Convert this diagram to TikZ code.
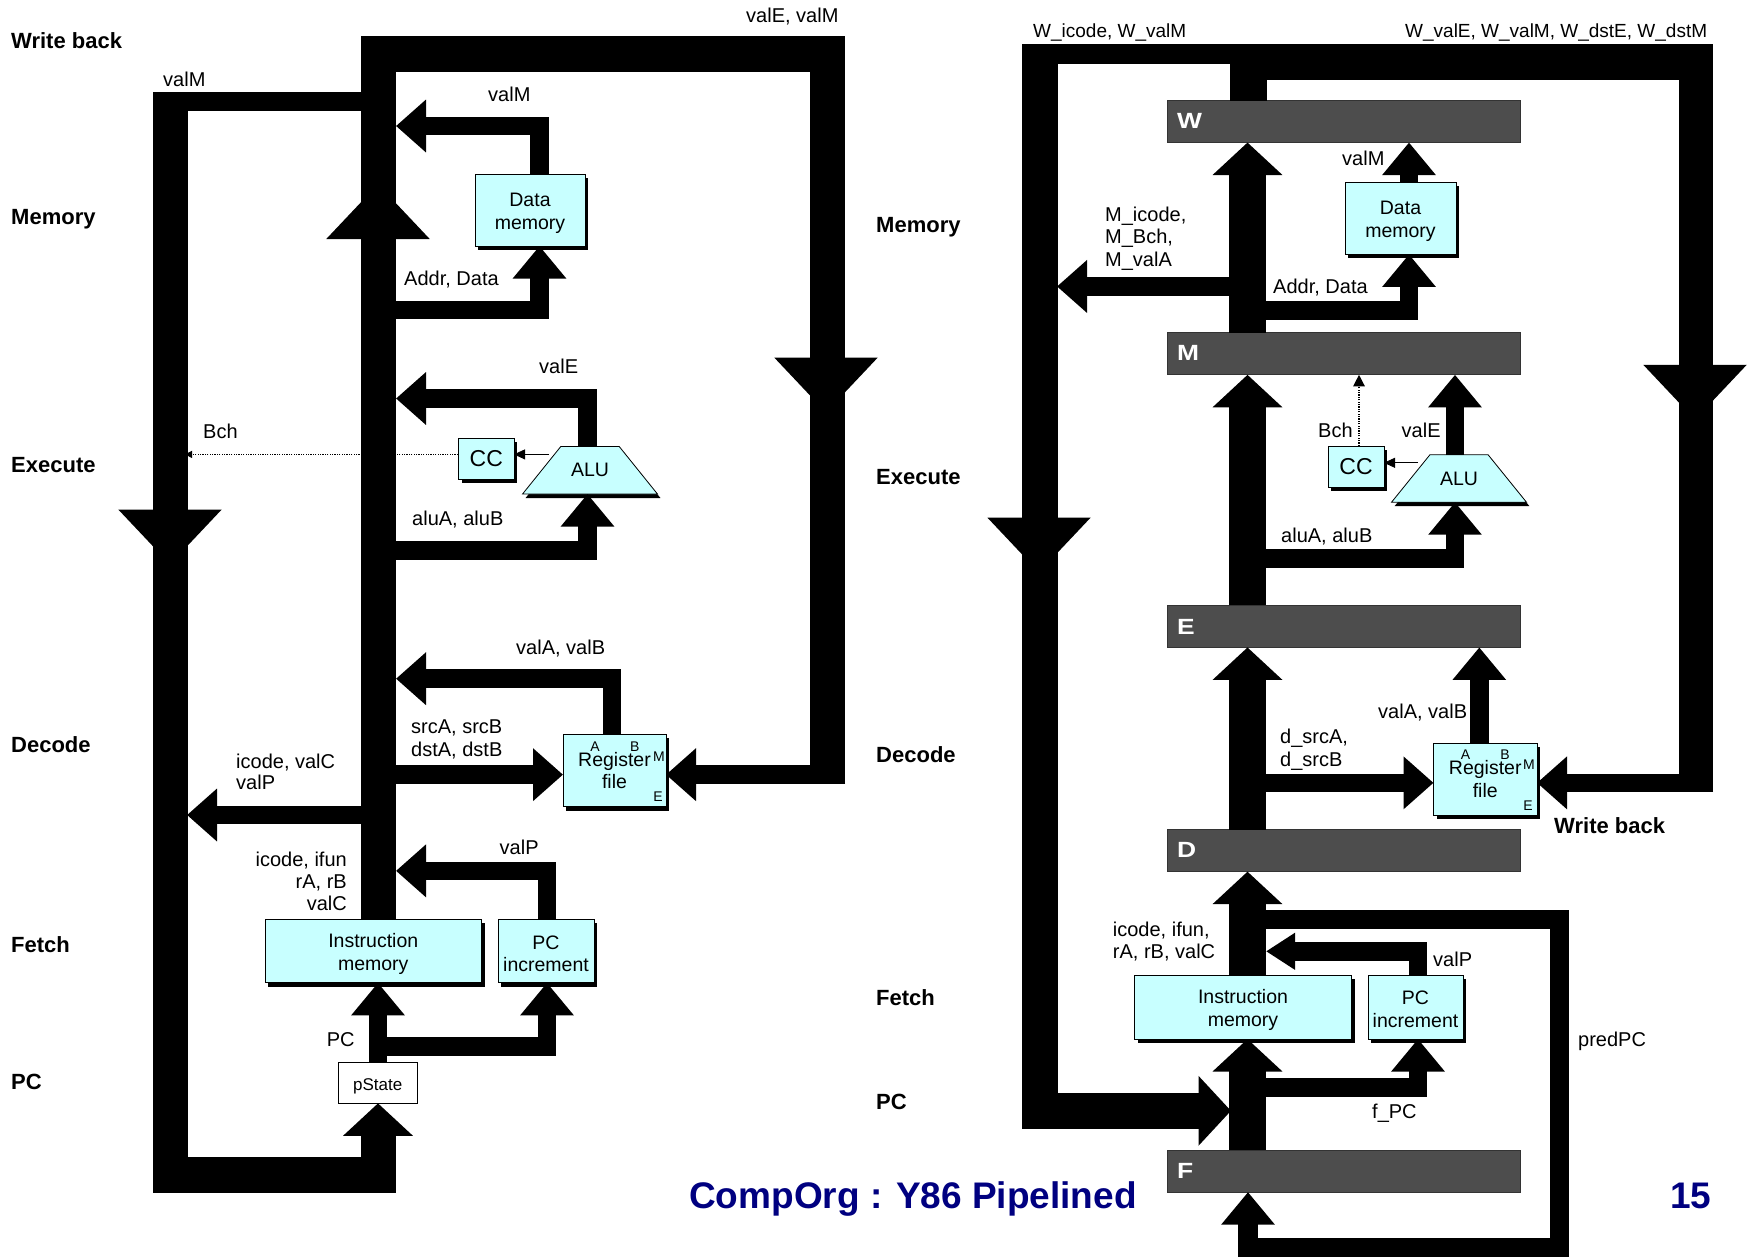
\documentclass[tikz,border=0pt]{standalone}
\usepackage{fontspec}
\setmainfont{Liberation Sans}
\usetikzlibrary{arrows.meta,shapes.geometric,shadows,calc}
\definecolor{boxc}{HTML}{C8FFFF}
\definecolor{barc}{HTML}{4D4D4D}
\definecolor{titlec}{HTML}{000080}
\newcommand{\lowr}[1]{\rule{0pt}{#1pt}}
\tikzset{
  wire/.style={draw=black,line width=#1,line cap=butt,line join=miter},
  hdH/.style={-{Triangle[length=30pt,width=51pt]}},
  hdV/.style={-{Triangle[length=32.5pt,width=51.5pt]}},
  hdW/.style={-{Triangle[length=32.5pt,width=68pt]}},
  hdS/.style={-{Triangle[length=29pt,width=35pt]}},
  hdB/.style={-{Triangle[length=55pt,width=100pt]}},
  thinarr/.style={draw=black,line width=.8pt,-{Triangle[length=11pt,width=10pt]}},
  dotarr/.style={draw=black,line width=1.2pt,dash pattern=on 1.2pt off 1.2pt,-{Triangle[length=#1,width=#1]}},
  box/.style={draw=black,line width=.8pt,fill=boxc,inner sep=0pt,outer sep=0pt,align=center,
    font=\fontsize{19.5}{22.5}\selectfont,
    general shadow={fill=black,shadow xshift=3pt,shadow yshift=-4pt}},
  alubox/.style={box,trapezium,trapezium stretches=true,trapezium left angle=28.6,trapezium right angle=28.6},
  ccbox/.style={box,font=\fontsize{23}{25}\selectfont},
  statebox/.style={draw=black,line width=.8pt,fill=white,inner sep=0pt,outer sep=0pt,
    font=\fontsize{17}{19}\selectfont},
  barbox/.style={draw=black!80,line width=.8pt,fill=barc,inner sep=0pt,outer sep=0pt,minimum width=353pt,minimum height=42pt},
  barlab/.style={inner sep=0pt,anchor=base west,text=white,font=\fontsize{22}{24}\selectfont\bfseries},
  lab/.style={inner sep=0pt,anchor=base west,font=\fontsize{20}{22}\selectfont},
  labr/.style={lab,anchor=base east},
  labs/.style={lab,anchor=base,font=\fontsize{14}{16}\selectfont},
  stage/.style={inner sep=0pt,anchor=base west,font=\fontsize{22}{24}\selectfont\bfseries},
  title/.style={inner sep=0pt,anchor=base west,text=titlec,font=\fontsize{37}{40}\selectfont\bfseries},
}
\begin{document}
\begin{tikzpicture}[x=1pt,y=-1pt]
\useasboundingbox (0,0) rectangle (1751,1256);
% ---------- left: boxes
\node[box,minimum width=110pt,minimum height=72pt] (dmL) at (530,210) {\lowr{20}Data\\memory};
\node[ccbox,minimum width=55.5pt,minimum height=40.7pt] (ccL) at (486.25,458.6) {CC};
\node[alubox,minimum width=136pt,minimum height=47.6pt] (aluL) at (590,470.2) {ALU};
\node[box,minimum width=103pt,minimum height=72.3pt] (rfL) at (614.5,770.6) {Register\\file};
\node[box,minimum width=216.5pt,minimum height=63.9pt] (imL) at (373.25,950.85) {\lowr{20}Instruction\\memory};
\node[box,minimum width=96pt,minimum height=63.9pt] (pcL) at (546,950.85) {\lowr{19}PC\\increment};
\node[statebox,minimum width=79.5pt,minimum height=41pt] (psL) at (377.75,1082.8) {\lowr{18.5}pState};
% ---------- right: boxes
\node[box,minimum width=111pt,minimum height=72.3pt] (dmR) at (1400.5,218.2) {\lowr{20}Data\\memory};
\node[ccbox,minimum width=56pt,minimum height=41pt] (ccR) at (1356,466.5) {CC};
\node[alubox,minimum width=136pt,minimum height=47.4pt] (aluR) at (1459,478.5) {ALU};
\node[box,minimum width=103.5pt,minimum height=71.8pt] (rfR) at (1485.25,779) {Register\\file};
\node[box,minimum width=217pt,minimum height=64pt] (imR) at (1243,1007) {\lowr{20}Instruction\\memory};
\node[box,minimum width=95pt,minimum height=64pt] (pcR) at (1415.5,1007) {\lowr{18}PC\\increment};
\node[barbox] (W) at (1343.5,121.5) {};
\node[barbox] (M) at (1343.5,353.8) {};
\node[barbox] (E) at (1343.5,626.4) {};
\node[barbox] (D) at (1343.5,850.6) {};
\node[barbox] (F) at (1343.5,1171.1) {};
% ---------- named junctions, left
\coordinate (LtopA) at (361,53.75);
\coordinate (LtopB) at (845,53.75);
\coordinate (LmainTop) at (378.5,36);
\coordinate (LmainBase) at (378,239);
\coordinate (LmainTip) at (378,184);
\coordinate (LvmA) at (378.5,101.65);
\coordinate (LvmB) at (153,101.65);
\coordinate (LbusTop) at (170.5,92);
\coordinate (LbusBot) at (170.5,1192.5);
\coordinate (LbusMid) at (170,500);
\coordinate (LbusTip) at (170,564.5);
\coordinate (LbotA) at (153,1174.75);
\coordinate (LbotB) at (396,1174.75);
\coordinate (LpsFoot) at (378,1174.75);
\coordinate (RbusLTop) at (827.5,71);
\coordinate (RbusLBot) at (827.5,783.9);
\coordinate (RbusLMid) at (826,350);
\coordinate (RbusLTip) at (826,412.6);
\coordinate (LretA) at (845,774.65);
\coordinate (LvmTip) at (396,126);
\coordinate (LvmCol) at (539.5,126);
\coordinate (LadA) at (378.5,310);
\coordinate (LadCol) at (539.5,310);
\coordinate (LveTip) at (396,398.5);
\coordinate (LveCol) at (587.5,398.5);
\coordinate (LalA) at (378.5,550.35);
\coordinate (LalCol) at (587.5,550.35);
\coordinate (LvaTip) at (396,678.7);
\coordinate (LvaCol) at (612,678.7);
\coordinate (LsrA) at (378.5,774.65);
\coordinate (LicA) at (361,815);
\coordinate (LicTip) at (187,815);
\coordinate (LvpTip) at (396,870.85);
\coordinate (LvpCol) at (547,870.85);
\coordinate (LpcA) at (378,1046.5);
\coordinate (LpcCol) at (547,1046.5);
\coordinate (LpcMain) at (378,900);
\coordinate (LbchTip) at (185,454.4);
\coordinate (LbchA) at (458,454.4);
\coordinate (LaluCc) at (549,454.4);
% ---------- named junctions, right
\coordinate (RtopA) at (1022,53.9);
\coordinate (RtopB) at (1267,53.9);
\coordinate (RtopC) at (1230,61.9);
\coordinate (RtopD) at (1713,61.9);
\coordinate (RlbTop) at (1040,44);
\coordinate (RlbBot) at (1040,1128.6);
\coordinate (RlbMid) at (1039,500);
\coordinate (RlbTip) at (1039,572.5);
\coordinate (RlbA) at (1022,1110.8);
\coordinate (RlbEnd) at (1231,1110.8);
\coordinate (Rstub) at (1248.5,44);
\coordinate (RrbTop) at (1696,62);
\coordinate (RrbBot) at (1696,792.3);
\coordinate (RrbMid) at (1695,350);
\coordinate (RrbTip) at (1695,419.8);
\coordinate (RretA) at (1713,782.85);
\coordinate (RadA) at (1248.5,310.2);
\coordinate (RadCol) at (1409,310.2);
\coordinate (RmA) at (1248.5,286.45);
\coordinate (RmTip) at (1057,286.45);
\coordinate (RbchCol) at (1359,400);
\coordinate (RveCol) at (1455,400);
\coordinate (RaluCc) at (1418,462.8);
\coordinate (RalA) at (1248.5,558.45);
\coordinate (RalCol) at (1455,558.45);
\coordinate (RvaCol) at (1479.3,700);
\coordinate (RdsA) at (1248.5,782.85);
\coordinate (RmainCol) at (1247.5,700);
\coordinate (RpdA) at (1248.5,919.5);
\coordinate (RpdC) at (1559.5,1247.5);
\coordinate (RpdF) at (1248,1200);
\coordinate (RvpCol) at (1418,951.3);
\coordinate (RvpTip) at (1266,951.3);
\coordinate (RfA) at (1248.5,1087.5);
\coordinate (RfCol) at (1418,1087.5);
\coordinate (RdmCol) at (1409,230);
% ---------- dotted and thin
\draw[dotarr=7pt] (LbchA) -- (LbchTip);
\draw[thinarr] (LaluCc) -- (ccL.east |- LaluCc);
\draw[dotarr=11.5pt] (RbchCol |- ccR.north) -- (RbchCol |- M.south);
\draw[thinarr] (RaluCc) -- (ccR.east |- RaluCc);
% ---------- left wires
\draw[wire=35.5] (LtopA) -- (LtopB);
\draw[wire=35] (LmainTop) -- (LmainTop |- imL.north);
\draw[wire=35,hdB] (LmainBase) -- (LmainTip);
\draw[wire=19.3] (LvmA) -- (LvmB);
\draw[wire=35.5] (LbusTop) -- (LbusBot);
\draw[wire=35,hdB] (LbusMid) -- (LbusTip);
\draw[wire=35.5] (LbotA) -- (LbotB);
\draw[wire=35,hdW] (LpsFoot) -- (LpsFoot |- psL.south);
\draw[wire=35] (RbusLTop) -- (RbusLBot);
\draw[wire=33,hdB] (RbusLMid) -- (RbusLTip);
\draw[wire=18.7,hdH] (LretA) -- (rfL.east |- LretA);
\draw[wire=18.7,hdH] (LvmCol |- dmL.north) -- (LvmCol) -- (LvmTip);
\draw[wire=18.7,hdV] (LadA) -- (LadCol) -- (LadCol |- dmL.south);
\draw[wire=18.7,hdH] (LveCol |- aluL.north) -- (LveCol) -- (LveTip);
\draw[wire=18.7,hdV] (LalA) -- (LalCol) -- (LalCol |- aluL.south);
\draw[wire=18.7,hdH] (LvaCol |- rfL.north) -- (LvaCol) -- (LvaTip);
\draw[wire=18.7,hdH] (LsrA) -- (rfL.west |- LsrA);
\draw[wire=18.7,hdH] (LicA) -- (LicTip);
\draw[wire=18.7,hdH] (LvpCol |- pcL.north) -- (LvpCol) -- (LvpTip);
\draw[wire=18.7,hdV] (LpcMain |- psL.north) -- (LpcMain |- imL.south);
\draw[wire=18.7,hdV] (LpcA) -- (LpcCol) -- (LpcCol |- pcL.south);
% ---------- right wires
\draw[wire=19.5] (RtopA) -- (RtopB);
\draw[wire=35.3] (RtopC) -- (RtopD);
\draw[wire=36] (RlbTop) -- (RlbBot);
\draw[wire=34,hdB] (RlbMid) -- (RlbTip);
\draw[wire=35.6,hdW] (RlbA) -- (RlbEnd);
\draw[wire=37] (Rstub) -- (Rstub |- W.north);
\draw[wire=37,hdW] (RmainCol |- M.north) -- (RmainCol |- W.south);
\draw[wire=37,hdW] (RmainCol |- E.north) -- (RmainCol |- M.south);
\draw[wire=37,hdW] (RmainCol |- D.north) -- (RmainCol |- E.south);
\draw[wire=37,hdW] (RmainCol |- imR.north) -- (RmainCol |- D.south);
\draw[wire=37,hdW] (RmainCol |- F.north) -- (RmainCol |- imR.south);
\draw[wire=34] (RrbTop) -- (RrbBot);
\draw[wire=32,hdB] (RrbMid) -- (RrbTip);
\draw[wire=18.7,hdH] (RretA) -- (rfR.east |- RretA);
\draw[wire=18.5,hdV] (RdmCol |- dmR.north) -- (RdmCol |- W.south);
\draw[wire=18.7,hdV] (RadA) -- (RadCol) -- (RadCol |- dmR.south);
\draw[wire=18.7,hdH] (RmA) -- (RmTip);
\draw[wire=18.5,hdV] (RveCol |- aluR.north) -- (RveCol |- M.south);
\draw[wire=18.7,hdV] (RalA) -- (RalCol) -- (RalCol |- aluR.south);
\draw[wire=18.5,hdV] (RvaCol |- rfR.north) -- (RvaCol |- E.south);
\draw[wire=18.7,hdH] (RdsA) -- (rfR.west |- RdsA);
\draw[wire=19.2,hdV] (RpdA) -| (RpdC) -| (RpdF |- F.south);
\draw[wire=18.7,hdS] (RvpCol |- pcR.north) -- (RvpCol) -- (RvpTip);
\draw[wire=18.7,hdV] (RfA) -- (RfCol) -- (RfCol |- pcR.south);
% ---------- stage names
\node[stage] (s1) at (11,48) {Write back};
\node[stage] (s2) at (11,224) {Memory};
\node[stage] (s3) at (11,472) {Execute};
\node[stage] (s4) at (11,752) {Decode};
\node[stage] (s5) at (11,952) {Fetch};
\node[stage] (s6) at (11,1089) {PC};
\node[stage] (t2) at (876,232) {Memory};
\node[stage] (t3) at (876,484) {Execute};
\node[stage] (t4) at (876,762.6) {Decode};
\node[stage] (t5) at (876,1005.7) {Fetch};
\node[stage] (t6) at (876,1109) {PC};
\node[stage] (t1) at (1554,833) {Write back};
% ---------- bar letters
\node[barlab] (lW) at (1177,128.6) {\scalebox{1.2}[1]{W}};
\node[barlab] (lM) at (1177,360.4) {\scalebox{1.2}[1]{M}};
\node[barlab] (lE) at (1177,634.6) {\scalebox{1.2}[1]{E}};
\node[barlab] (lD) at (1177,857.8) {\scalebox{1.2}[1]{D}};
\node[barlab] (lF) at (1177,1178.4) {\scalebox{1.2}[1]{F}};
% ---------- left labels
\node[lab] (a1) at (746,22) {valE, valM};
\node[lab] (a2) at (163,86.4) {valM};
\node[lab] (a3) at (488,101.6) {valM};
\node[lab] (a4) at (404,285) {Addr, Data};
\node[lab] (a5) at (539,373.6) {valE};
\node[lab] (a6) at (203,438) {Bch};
\node[lab] (a7) at (412,525.5) {aluA, aluB};
\node[lab] (a8) at (516,654) {valA, valB};
\node[lab] (a9) at (411,733.7) {srcA, srcB};
\node[lab] (a10) at (411,756.6) {dstA, dstB};
\node[lab] (a11) at (236,768) {icode, valC};
\node[lab] (a12) at (236,789.5) {valP};
\node[labr] (a13) at (347,866) {icode, ifun};
\node[labr] (a14) at (347,888) {rA, rB};
\node[labr] (a15) at (347,910.5) {valC};
\node[lab] (a16) at (499.5,854) {valP};
\node[lab] (a17) at (326.6,1046.7) {PC};
\node[labs] (a18) at (595,751) {A};
\node[labs] (a19) at (634.7,751) {B};
\node[labs] (a20) at (659,761.4) {M};
\node[labs] (a21) at (658,801.6) {E};
% ---------- right labels
\node[lab,font=\fontsize{19}{21}\selectfont] (b1) at (1033,37.4) {W\_icode, W\_valM};
\node[lab,font=\fontsize{19}{21}\selectfont] (b2) at (1405,37.4) {W\_valE, W\_valM, W\_dstE, W\_dstM};
\node[lab] (b3) at (1342,165.5) {valM};
\node[lab] (b4) at (1105,221.8) {M\_icode,};
\node[lab] (b5) at (1105,243.9) {M\_Bch,};
\node[lab] (b6) at (1105,266.4) {M\_valA};
\node[lab] (b7) at (1273,293.7) {Addr, Data};
\node[lab] (b8) at (1318,437) {Bch};
\node[lab] (b9) at (1401.5,437) {valE};
\node[lab] (b10) at (1281,542.4) {aluA, aluB};
\node[lab] (b11) at (1378,718.4) {valA, valB};
\node[lab] (b12) at (1280,743.3) {d\_srcA,};
\node[lab] (b13) at (1280,766.2) {d\_srcB};
\node[lab] (b14) at (1112.7,936.6) {icode, ifun,};
\node[lab] (b15) at (1112.7,958.3) {rA, rB, valC};
\node[lab] (b16) at (1433,966) {valP};
\node[lab] (b17) at (1578,1046.7) {predPC};
\node[lab] (b18) at (1372,1118.6) {f\_PC};
\node[labs] (b19) at (1465.5,759) {A};
\node[labs] (b20) at (1505,759) {B};
\node[labs] (b21) at (1529,769) {M};
\node[labs] (b22) at (1528,810) {E};
% ---------- footer
\node[title] (ttl) at (689,1208.6) {CompOrg : Y86 Pipelined};
\node[title] (num) at (1670,1208.6) {15};
\end{tikzpicture}
\end{document}
